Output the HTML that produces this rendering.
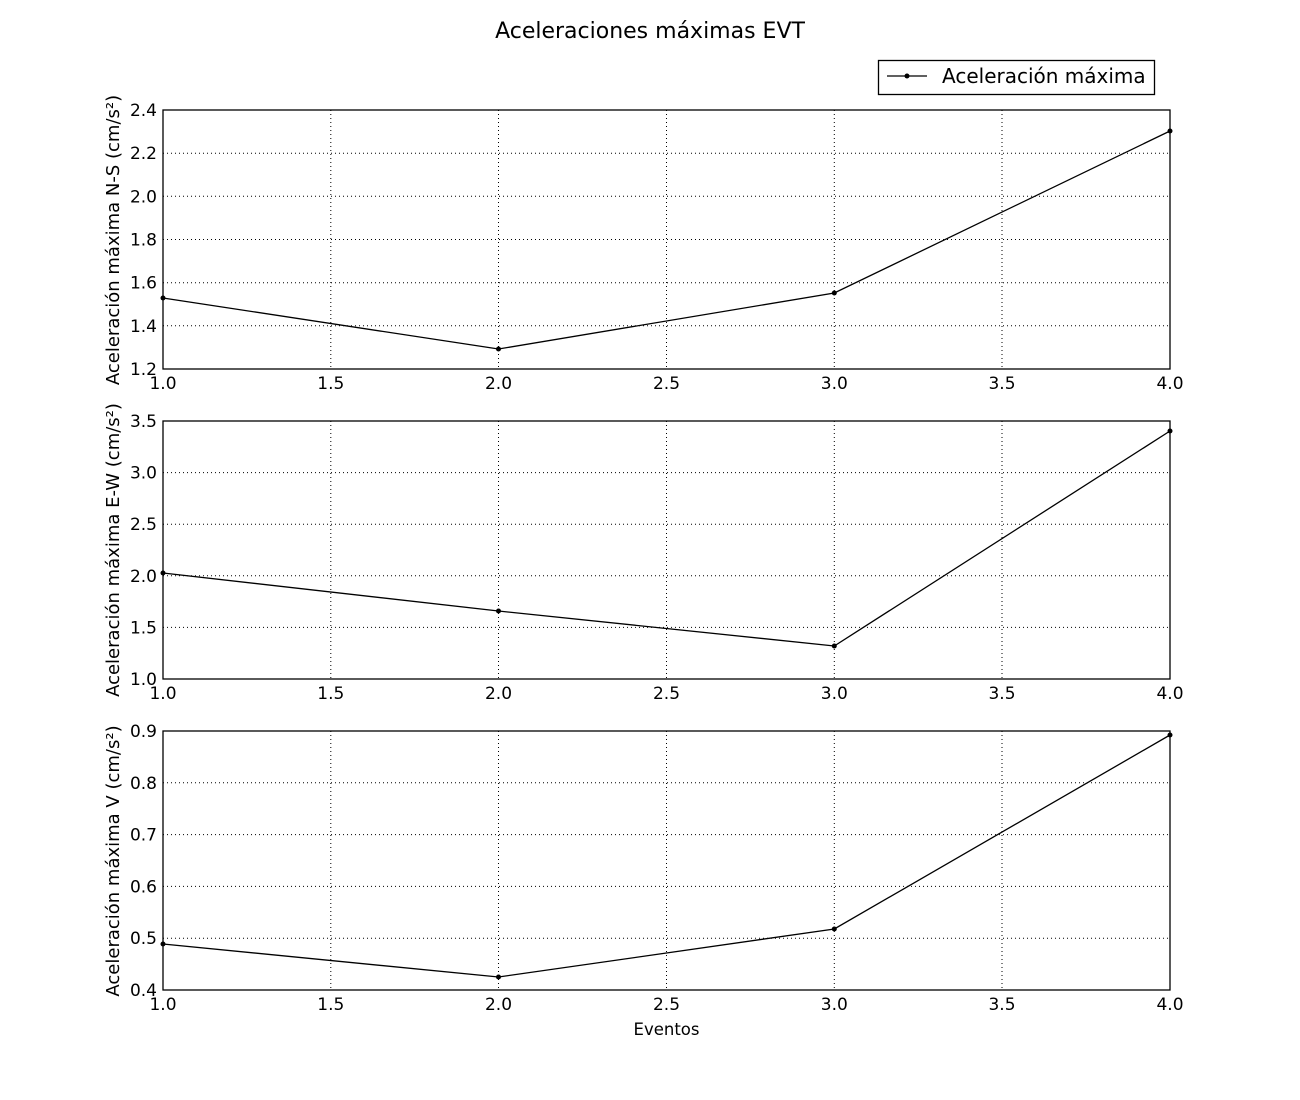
<!DOCTYPE html>
<html><head><meta charset="utf-8"><style>body{margin:0;background:#fff}svg{display:block}text{font-family:"DejaVu Sans","Liberation Sans",sans-serif;fill:#000}</style></head><body>
<svg width="1300" height="1100" viewBox="0 0 1300 1100" xmlns="http://www.w3.org/2000/svg">
<rect width="1300" height="1100" fill="#fff"/>
<text x="650" y="38" font-size="22" text-anchor="middle">Aceleraciones máximas EVT</text>
<g stroke="#000" stroke-width="1" stroke-dasharray="1,3" fill="none">
<path d="M330.8 110V369M498.5 110V369M666.5 110V369M834.3 110V369M1002 110V369"/>
<path d="M163 325.8H1170M163 282.7H1170M163 239.5H1170M163 196.3H1170M163 153.2H1170"/>
<path d="M330.8 421V679M498.5 421V679M666.5 421V679M834.3 421V679M1002 421V679"/>
<path d="M163 627.4H1170M163 575.8H1170M163 524.2H1170M163 472.6H1170"/>
<path d="M330.8 731V990M498.5 731V990M666.5 731V990M834.3 731V990M1002 731V990"/>
<path d="M163 938.2H1170M163 886.4H1170M163 834.6H1170M163 782.8H1170"/>
</g>
<g stroke="#000" stroke-width="1.3" fill="none">
<rect x="163" y="110" width="1007" height="259"/>
<rect x="163" y="421" width="1007" height="258"/>
<rect x="163" y="731" width="1007" height="259"/>
</g>
<g stroke="#000" stroke-width="1.3" fill="none">
<polyline points="163,298 498.5,349 834.3,293 1170,131"/>
<polyline points="163,573 498.5,611 834.3,646 1170,431"/>
<polyline points="163,944 498.5,977 834.3,929 1170,735"/>
</g>
<g fill="#000">
<circle cx="163" cy="298" r="2.5"/><circle cx="498.5" cy="349" r="2.5"/><circle cx="834.3" cy="293" r="2.5"/><circle cx="1170" cy="131" r="2.5"/>
<circle cx="163" cy="573" r="2.5"/><circle cx="498.5" cy="611" r="2.5"/><circle cx="834.3" cy="646" r="2.5"/><circle cx="1170" cy="431" r="2.5"/>
<circle cx="163" cy="944" r="2.5"/><circle cx="498.5" cy="977" r="2.5"/><circle cx="834.3" cy="929" r="2.5"/><circle cx="1170" cy="735" r="2.5"/>
</g>
<g font-size="17" text-anchor="middle">
<text x="163" y="389">1.0</text><text x="330.8" y="389">1.5</text><text x="498.5" y="389">2.0</text><text x="666.5" y="389">2.5</text><text x="834.3" y="389">3.0</text><text x="1002" y="389">3.5</text><text x="1170" y="389">4.0</text>
<text x="163" y="699">1.0</text><text x="330.8" y="699">1.5</text><text x="498.5" y="699">2.0</text><text x="666.5" y="699">2.5</text><text x="834.3" y="699">3.0</text><text x="1002" y="699">3.5</text><text x="1170" y="699">4.0</text>
<text x="163" y="1010">1.0</text><text x="330.8" y="1010">1.5</text><text x="498.5" y="1010">2.0</text><text x="666.5" y="1010">2.5</text><text x="834.3" y="1010">3.0</text><text x="1002" y="1010">3.5</text><text x="1170" y="1010">4.0</text>
</g>
<g font-size="17" text-anchor="end">
<text x="157" y="375">1.2</text><text x="157" y="331.8">1.4</text><text x="157" y="288.7">1.6</text><text x="157" y="245.5">1.8</text><text x="157" y="202.3">2.0</text><text x="157" y="159.2">2.2</text><text x="157" y="116">2.4</text>
<text x="157" y="685">1.0</text><text x="157" y="633.4">1.5</text><text x="157" y="581.8">2.0</text><text x="157" y="530.2">2.5</text><text x="157" y="478.6">3.0</text><text x="157" y="427">3.5</text>
<text x="157" y="996">0.4</text><text x="157" y="944.2">0.5</text><text x="157" y="892.4">0.6</text><text x="157" y="840.6">0.7</text><text x="157" y="788.8">0.8</text><text x="157" y="737">0.9</text>
</g>
<g font-size="18" text-anchor="middle">
<text transform="translate(119,240) rotate(-90)">Aceleración máxima N-S (cm/s²)</text>
<text transform="translate(119,550) rotate(-90)">Aceleración máxima E-W (cm/s²)</text>
<text transform="translate(119,861) rotate(-90)">Aceleración máxima V (cm/s²)</text>
<text x="666.5" y="1035" font-size="16.5">Eventos</text>
</g>
<rect x="878.5" y="60.5" width="276" height="34" fill="#fff" stroke="#000" stroke-width="1.3"/>
<line x1="887" y1="76" x2="927" y2="76" stroke="#000" stroke-width="1.3"/>
<circle cx="907" cy="76" r="2.5" fill="#000"/>
<text x="942" y="83" font-size="20">Aceleración máxima</text>
</svg>
</body></html>
